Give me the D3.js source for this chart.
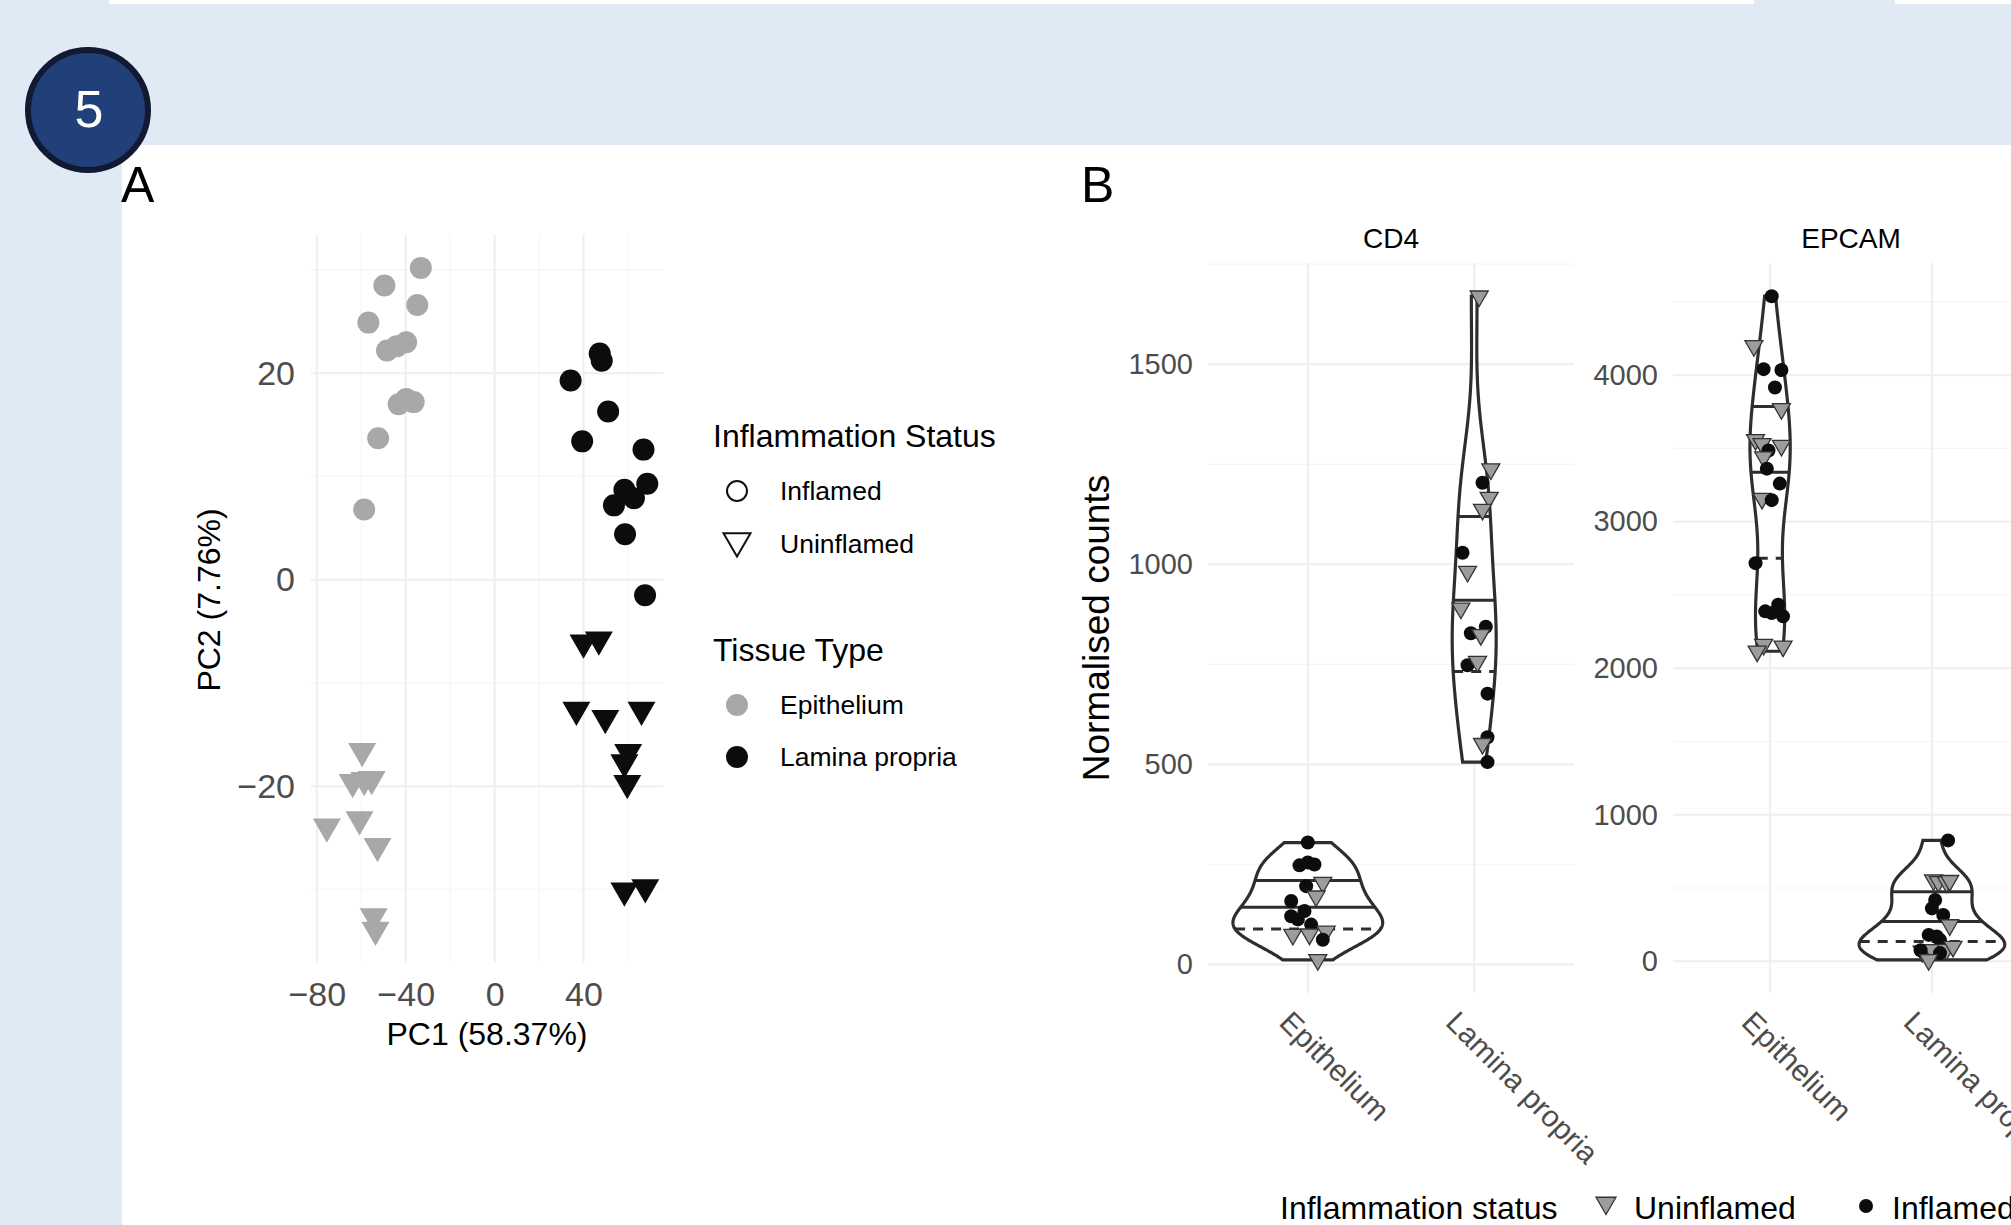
<!DOCTYPE html>
<html>
<head>
<meta charset="utf-8">
<script src="https://cdn.jsdelivr.net/npm/d3@7"></script>
<style>
	body { margin: 0; background: #e0eaf4; }
	svg { display: block; font-family: "Liberation Sans", Arial, Helvetica, sans-serif; }
</style>
</head>
<body>
<svg id="fig" width="2011" height="1225"></svg>
<script>
var W = 2011, H = 1225;

/* ------- DATA: PCA (panel A) ------- */
var pcaEpiInflamed = [[-33.2, 30.2], [-49.6, 28.5], [-34.8, 26.6], [-56.8, 24.9], [-39.8, 23.0], [-44.1, 22.6],
	[-48.4, 22.2], [-39.8, 17.5], [-36.4, 17.2], [-43.2, 17.0], [-52.4, 13.7], [-58.7, 6.8]];
var pcaEpiUninflamed = [[-59.6, -16.6], [-63.9, -19.6], [-58.7, -19.4], [-55.3, -19.3], [-60.8, -23.2],
	[-75.5, -23.9], [-52.7, -25.8], [-54.4, -32.6], [-53.6, -33.9]];
var pcaLpInflamed = [[47.3, 21.9], [48.2, 21.2], [34.2, 19.3], [51.1, 16.3], [39.4, 13.4], [67.0, 12.6],
	[68.7, 9.3], [58.4, 8.7], [62.7, 7.9], [53.7, 7.2], [58.7, 4.4], [67.7, -1.5]];
var pcaLpUninflamed = [[40.0, -6.1], [46.9, -5.8], [36.8, -12.6], [49.8, -13.4], [66.1, -12.6],
	[60.1, -16.7], [58.4, -17.7], [59.7, -19.7], [58.4, -30.1], [67.8, -29.8]];
var pcaXTicks = [-80, -40, 0, 40];
var pcaYTicks = [-20, 0, 20];

/* ------- DATA: normalised counts (panel B) ------- */
var tissues = ["Epithelium", "Lamina propria"];
var genes = ["CD4", "EPCAM"];

var cd4EpiCounts = [305, 248, 255, 250, 196, 205, 171, 159, 134, 121, 113, 100, 75, 76, 83, 62, 12];
var cd4EpiStatus = ["I", "I", "I", "I", "I", "U", "U", "I", "I", "I", "I", "I", "U", "U", "U", "I", "U"];
var cd4EpiJitter = [0.00, -0.05, 0.00, 0.04, -0.01, 0.09, 0.05, -0.10, -0.02, -0.10, -0.06, 0.02, -0.09, 0.01, 0.11, 0.09, 0.06];

var cd4LpCounts = [1670, 1238, 1204, 1167, 1137, 1029, 982, 890, 844, 828, 824, 748, 757, 677, 568, 552, 506];
var cd4LpStatus = ["U", "U", "I", "U", "U", "I", "U", "U", "I", "I", "U", "I", "U", "I", "I", "U", "I"];
var cd4LpJitter = [0.03, 0.10, 0.05, 0.09, 0.05, -0.07, -0.04, -0.08, 0.07, -0.02, 0.04, -0.04, 0.02, 0.08, 0.08, 0.05, 0.08];

var epcamEpiCounts = [4539, 4200, 4041, 4035, 3916, 3770, 3559, 3532, 3520, 3486, 3441, 3362, 3260, 3158, 3147,
	2717, 2388, 2433, 2354, 2377, 2162, 2116, 2150];
var epcamEpiStatus = ["I", "U", "I", "I", "I", "U", "U", "U", "U", "I", "U", "I", "I", "U", "I",
	"I", "I", "I", "I", "I", "U", "U", "U"];
var epcamEpiJitter = [0.01, -0.10, -0.04, 0.07, 0.03, 0.07, -0.09, -0.05, 0.07, -0.01, -0.04, -0.02, 0.06, -0.05, 0.01,
	-0.09, -0.03, 0.05, 0.08, 0.01, -0.04, -0.08, 0.08];

var epcamLpCounts = [825, 554, 543, 540, 550, 418, 361, 316, 248, 180, 169, 146, 67, 78, 80, 101, 75, 56, 10];
var epcamLpStatus = ["I", "U", "U", "U", "U", "I", "I", "I", "U", "I", "I", "I", "U", "U", "U", "U", "I", "I", "U"];
var epcamLpJitter = [0.10, 0.01, 0.04, 0.09, 0.11, 0.02, 0.00, 0.07, 0.11, -0.02, 0.03, 0.05, -0.06, 0.00, 0.09, 0.13, -0.07, 0.05, -0.02];

var cd4Ticks = [0, 500, 1000, 1500];
var epcamTicks = [0, 1000, 2000, 3000, 4000];
var violinQuantiles = [0.25, 0.5, 0.75];

/* ------- colours ------- */
var grey = "#a8a8a8", black = "#0c0c0c", tickGrey = "#4d4d4d";
var gridMajor = "#eeeeee", gridMinor = "#f6f6f6";

var svg = d3.select("#fig");

/* ------- page background ------- */
svg.append("rect").attr("width", W).attr("height", H).attr("fill", "#e0eaf4");
svg.append("rect").attr("x", 109).attr("y", 0).attr("width", 1645).attr("height", 4).attr("fill", "#fff");
svg.append("rect").attr("x", 1895).attr("y", 0).attr("width", 116).attr("height", 4).attr("fill", "#fff");
svg.append("rect").attr("x", 122).attr("y", 145).attr("width", W - 122).attr("height", H - 145).attr("fill", "#fff");

// numbered badge
svg.append("circle").attr("cx", 88).attr("cy", 110).attr("r", 60)
	.attr("fill", "#213f78").attr("stroke", "#121a33").attr("stroke-width", 6);
svg.append("text").attr("x", 89).attr("y", 127).attr("text-anchor", "middle")
	.style("font-family", "'Liberation Sans Narrow', 'Liberation Sans', Arial, sans-serif")
	.attr("font-size", 52).attr("fill", "#fff").text("5");

svg.append("text").attr("x", 121).attr("y", 202).attr("font-size", 50).text("A");
svg.append("text").attr("x", 1081).attr("y", 202).attr("font-size", 50).text("B");

function extentPad(vals, frac) {
	var e = d3.extent(vals), pad = (e[1] - e[0]) * frac;
	return [e[0] - pad, e[1] + pad];
}

function downTriangle(side) {
	return d3.symbol(d3.symbolTriangle, Math.sqrt(3) / 4 * side * side)();
}

/* =========================== PANEL A =========================== */
var allPca = pcaEpiInflamed.concat(pcaEpiUninflamed, pcaLpInflamed, pcaLpUninflamed);

var xPca = d3.scaleLinear()
	.domain(extentPad(allPca.map(function (d) { return d[0]; }), 0.05))
	.range([310.8, 663.3]);
var yPca = d3.scaleLinear()
	.domain(extentPad(allPca.map(function (d) { return d[1]; }), 0.05))
	.range([962.8, 234.8]);

var gA = svg.append("g");

// minor + major gridlines
var xMinorA = [-60, -20, 20, 60], yMinorA = [-30, -10, 10, 30];
gA.selectAll("line.xminor").data(xMinorA).enter().append("line")
	.attr("x1", xPca).attr("x2", xPca).attr("y1", yPca.range()[0]).attr("y2", yPca.range()[1])
	.attr("stroke", gridMinor).attr("stroke-width", 1.2);
gA.selectAll("line.yminor").data(yMinorA).enter().append("line")
	.attr("y1", yPca).attr("y2", yPca).attr("x1", xPca.range()[0]).attr("x2", xPca.range()[1])
	.attr("stroke", gridMinor).attr("stroke-width", 1.2);
gA.selectAll("line.xmajor").data(pcaXTicks).enter().append("line")
	.attr("x1", xPca).attr("x2", xPca).attr("y1", yPca.range()[0]).attr("y2", yPca.range()[1])
	.attr("stroke", gridMajor).attr("stroke-width", 2);
gA.selectAll("line.ymajor").data(pcaYTicks).enter().append("line")
	.attr("y1", yPca).attr("y2", yPca).attr("x1", xPca.range()[0]).attr("x2", xPca.range()[1])
	.attr("stroke", gridMajor).attr("stroke-width", 2);

// axes (text only, theme_minimal)
var axXA = gA.append("g").attr("transform", "translate(0," + 982 + ")")
	.call(d3.axisBottom(xPca).tickValues(pcaXTicks).tickSize(0).tickPadding(0));
var axYA = gA.append("g").attr("transform", "translate(" + 295 + ",0)")
	.call(d3.axisLeft(yPca).tickValues(pcaYTicks).tickSize(0).tickPadding(0));
[axXA, axYA].forEach(function (ax) {
	ax.select(".domain").remove();
	ax.selectAll("text").attr("font-size", 34).attr("fill", tickGrey)
		.style("font-family", "'Liberation Sans', Arial, sans-serif");
});
axXA.selectAll("text").attr("dy", "0.71em");

gA.append("text").attr("x", 487).attr("y", 1034).attr("dy", "0.35em").attr("text-anchor", "middle")
	.attr("font-size", 32).text("PC1 (58.37%)");
gA.append("text").attr("transform", "translate(209,600) rotate(-90)").attr("dy", "0.35em")
	.attr("text-anchor", "middle").attr("font-size", 32).text("PC2 (7.76%)");

// points
var circA = d3.symbol(d3.symbolCircle, Math.PI * 11 * 11)();
var triA = downTriangle(28);
function pcaPoints(data, shape, colour) {
	gA.append("g").selectAll("path").data(data).enter().append("path")
		.attr("d", shape)
		.attr("transform", function (d) {
			return "translate(" + xPca(d[0]) + "," + yPca(d[1]) + ")" + (shape === triA ? " rotate(180)" : "");
		})
		.attr("fill", colour);
}
pcaPoints(pcaEpiInflamed, circA, grey);
pcaPoints(pcaEpiUninflamed, triA, grey);
pcaPoints(pcaLpInflamed, circA, black);
pcaPoints(pcaLpUninflamed, triA, black);

// legend
var legA = gA.append("g");
legA.append("text").attr("x", 713).attr("y", 447).attr("font-size", 32).text("Inflammation Status");
legA.append("circle").attr("cx", 737).attr("cy", 491).attr("r", 10)
	.attr("fill", "none").attr("stroke", "#111").attr("stroke-width", 2);
legA.append("text").attr("x", 780).attr("y", 500).attr("font-size", 26.5).text("Inflamed");
legA.append("path").attr("d", downTriangle(27))
	.attr("transform", "translate(737,541) rotate(180)")
	.attr("fill", "none").attr("stroke", "#111").attr("stroke-width", 2);
legA.append("text").attr("x", 780).attr("y", 553).attr("font-size", 26.5).text("Uninflamed");

legA.append("text").attr("x", 713).attr("y", 661).attr("font-size", 32).text("Tissue Type");
legA.append("circle").attr("cx", 737).attr("cy", 705).attr("r", 11).attr("fill", grey);
legA.append("text").attr("x", 780).attr("y", 714).attr("font-size", 26.5).text("Epithelium");
legA.append("circle").attr("cx", 737).attr("cy", 757).attr("r", 11).attr("fill", black);
legA.append("text").attr("x", 780).attr("y", 766).attr("font-size", 26.5).text("Lamina propria");

/* =========================== PANEL B =========================== */
var violinGroups = [
	{ gene: "CD4", tissue: "Epithelium", counts: cd4EpiCounts, status: cd4EpiStatus, jitter: cd4EpiJitter },
	{ gene: "CD4", tissue: "Lamina propria", counts: cd4LpCounts, status: cd4LpStatus, jitter: cd4LpJitter },
	{ gene: "EPCAM", tissue: "Epithelium", counts: epcamEpiCounts, status: epcamEpiStatus, jitter: epcamEpiJitter },
	{ gene: "EPCAM", tissue: "Lamina propria", counts: epcamLpCounts, status: epcamLpStatus, jitter: epcamLpJitter }
];
var panelX = { CD4: [1208, 1574], EPCAM: [1673, 2029] };
var panelTicks = { CD4: cd4Ticks, EPCAM: epcamTicks };
var panelY = [993, 263];

// R's bw.nrd0
function bwNrd0(v) {
	var s = v.slice().sort(d3.ascending);
	var iqr = d3.quantileSorted(s, 0.75) - d3.quantileSorted(s, 0.25);
	var lo = Math.min(d3.deviation(s), iqr / 1.34);
	return 0.9 * lo * Math.pow(v.length, -0.2);
}

// gaussian kde evaluated over the data range (trim = TRUE)
function kde(v, bw) {
	var lo = d3.min(v), hi = d3.max(v), n = 512;
	return d3.range(n).map(function (i) {
		var y = lo + (hi - lo) * i / (n - 1);
		var s = d3.sum(v, function (x) { var z = (y - x) / bw; return Math.exp(-0.5 * z * z); });
		return { y: y, d: s / (v.length * bw * Math.sqrt(2 * Math.PI)) };
	});
}

violinGroups.forEach(function (g) { g.dens = kde(g.counts, bwNrd0(g.counts)); });

var gB = svg.append("g");

genes.forEach(function (gene) {
	var groups = violinGroups.filter(function (g) { return g.gene === gene; });
	var allCounts = d3.merge(groups.map(function (g) { return g.counts; }));

	var x = d3.scalePoint().domain(tissues).range(panelX[gene]).padding(0.6);
	var y = d3.scaleLinear().domain(extentPad(allCounts, 0.05)).range(panelY);
	var step = x.step();
	var maxD = d3.max(groups, function (g) { return d3.max(g.dens, function (p) { return p.d; }); });

	var pg = gB.append("g");
	var ticks = panelTicks[gene];
	var minor = d3.range(ticks.length + 1).map(function (i) { return (i - 0.5) * (ticks[1] - ticks[0]); })
		.filter(function (v) { return y(v) <= panelY[0] && y(v) >= panelY[1]; });

	pg.selectAll("line.minor").data(minor).enter().append("line")
		.attr("x1", panelX[gene][0]).attr("x2", panelX[gene][1]).attr("y1", y).attr("y2", y)
		.attr("stroke", gridMinor).attr("stroke-width", 1.2);
	pg.selectAll("line.major").data(ticks).enter().append("line")
		.attr("x1", panelX[gene][0]).attr("x2", panelX[gene][1]).attr("y1", y).attr("y2", y)
		.attr("stroke", gridMajor).attr("stroke-width", 2);
	pg.selectAll("line.vmajor").data(tissues).enter().append("line")
		.attr("x1", x).attr("x2", x).attr("y1", panelY[0]).attr("y2", panelY[1])
		.attr("stroke", gridMajor).attr("stroke-width", 2);

	var ax = pg.append("g").attr("transform", "translate(" + (panelX[gene][0] - 15) + ",0)")
		.call(d3.axisLeft(y).tickValues(ticks).tickFormat(d3.format("d")).tickSize(0).tickPadding(0));
	ax.select(".domain").remove();
	ax.selectAll("text").attr("font-size", 29).attr("fill", tickGrey)
		.style("font-family", "'Liberation Sans', Arial, sans-serif");

	// rotated category labels
	pg.selectAll("text.cat").data(tissues).enter().append("text")
		.attr("transform", function (d) { return "translate(" + (x(d) - 30) + ",1024) rotate(45)"; })
		.attr("font-size", 30).attr("fill", tickGrey).text(function (d) { return d; });

	pg.append("text").attr("x", (panelX[gene][0] + panelX[gene][1]) / 2).attr("y", 248)
		.attr("text-anchor", "middle").attr("font-size", 28).text(gene);

	groups.forEach(function (g) {
		var cx = x(g.tissue);
		var hw = function (p) { return p.d / maxD * 0.45 * step; };

		var area = d3.area()
			.x0(function (p) { return cx - hw(p); })
			.x1(function (p) { return cx + hw(p); })
			.y(function (p) { return y(p.y); });
		pg.append("path").datum(g.dens).attr("d", area)
			.attr("fill", "#fff").attr("stroke", "#2e2e2e").attr("stroke-width", 3.2);

		// quantile segments from the density's cdf (as ggplot draw_quantiles)
		var tot = d3.sum(g.dens, function (p) { return p.d; });
		var cum = d3.cumsum(g.dens, function (p) { return p.d; }).map(function (c) { return c / tot; });
		violinQuantiles.forEach(function (q) {
			var i = d3.bisectLeft(cum, q);
			i = Math.max(1, Math.min(i, cum.length - 1));
			var t = (q - cum[i - 1]) / (cum[i] - cum[i - 1]);
			var qy = g.dens[i - 1].y + t * (g.dens[i].y - g.dens[i - 1].y);
			var qw = (g.dens[i - 1].d + t * (g.dens[i].d - g.dens[i - 1].d)) / maxD * 0.45 * step;
			pg.append("line")
				.attr("x1", cx - qw).attr("x2", cx + qw).attr("y1", y(qy)).attr("y2", y(qy))
				.attr("stroke", "#2e2e2e").attr("stroke-width", 3)
				.attr("stroke-dasharray", q === 0.25 ? "10,8" : null);
		});

		// jittered sample points
		var pts = g.counts.map(function (v, i) { return { v: v, s: g.status[i], j: g.jitter[i] }; });
		pg.append("g").selectAll("path").data(pts).enter().append("path")
			.attr("d", function (d) {
				return d.s === "U" ? downTriangle(18) : d3.symbol(d3.symbolCircle, Math.PI * 7 * 7)();
			})
			.attr("transform", function (d) {
				return "translate(" + (cx + d.j * step) + "," + y(d.v) + ")" + (d.s === "U" ? " rotate(180)" : "");
			})
			.attr("fill", function (d) { return d.s === "U" ? "#9c9c9c" : black; })
			.attr("stroke", function (d) { return d.s === "U" ? "#333" : "none"; })
			.attr("stroke-width", 1.3);
	});
});

gB.append("text").attr("transform", "translate(1096,628) rotate(-90)").attr("dy", "0.35em")
	.attr("text-anchor", "middle").attr("font-size", 37).text("Normalised counts");

// bottom legend
var legB = gB.append("g");
legB.append("text").attr("x", 1280).attr("y", 1219).attr("font-size", 32).text("Inflammation status");
legB.append("path").attr("d", downTriangle(20)).attr("transform", "translate(1606,1203) rotate(180)")
	.attr("fill", "#9c9c9c").attr("stroke", "#333").attr("stroke-width", 1.3);
legB.append("text").attr("x", 1634).attr("y", 1219).attr("font-size", 32).text("Uninflamed");
legB.append("circle").attr("cx", 1866).attr("cy", 1206).attr("r", 7).attr("fill", black);
legB.append("text").attr("x", 1892).attr("y", 1219).attr("font-size", 32).text("Inflamed");
</script>
</body>
</html>
